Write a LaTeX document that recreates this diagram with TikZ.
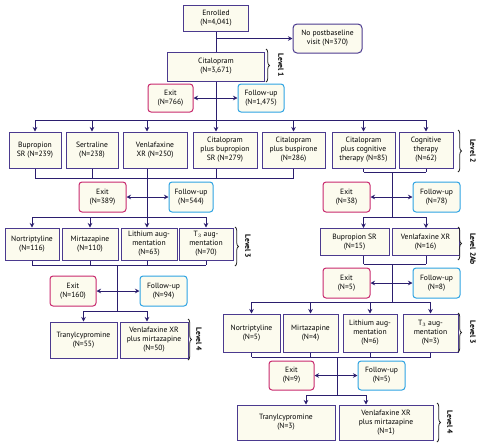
\documentclass[tikz,border=0pt]{standalone}
\usepackage{fontspec}
\setmainfont{PT Sans}
\usepackage{tikz}
\usetikzlibrary{arrows.meta,decorations.pathreplacing}
\definecolor{boxc}{HTML}{4B3A8F}
\definecolor{linec}{HTML}{2B1E6E}
\definecolor{exitc}{HTML}{C8286E}
\definecolor{fupc}{HTML}{2EA3E3}
\definecolor{softbg}{HTML}{FCFBEE}
\tikzset{
  ln/.style={linec,line width=1pt},
  ar/.style={ln,-{Stealth[length=4.5pt,width=4.5pt]}},
  dar/.style={ln,{Stealth[length=4.5pt,width=4.5pt]}-{Stealth[length=4.5pt,width=4.5pt]}},
  box/.style={draw=boxc,line width=1pt,fill=softbg,align=center,inner sep=1pt,font=\fontsize{7.6}{9}\selectfont},
  exbox/.style={box,draw=exitc,rounded corners=3pt},
  fubox/.style={box,draw=fupc,rounded corners=3pt},
  lvl/.style={font=\fontsize{7.6}{9}\selectfont\bfseries,rotate=-90},
  brc/.style={decorate,decoration={brace,amplitude=3.5pt},line width=0.8pt,black!85}
}

\begin{document}
\begin{tikzpicture}[x=1pt,y=-1pt]
\useasboundingbox (0,0) rectangle (485,445);
\coordinate (cl) at (147,0);
\coordinate (cm) at (216,0);
\coordinate (ck) at (117,0);
\coordinate (cr) at (392,0);
\coordinate (cq) at (337,0);
\coordinate (ca) at (306,0);
\coordinate (cb) at (366,0);
\coordinate (b1) at (0,120);
\coordinate (b2) at (0,178);
\coordinate (b3) at (0,217);
\coordinate (b4) at (0,265);
\coordinate (b5) at (0,311);
\coordinate (r1) at (0,172);
\coordinate (r2) at (0,217);
\coordinate (r3) at (0,264);
\coordinate (r4) at (0,302);
\coordinate (r5) at (0,357);
\coordinate (r6) at (0,395);

\node[box,minimum width=65pt,minimum height=26pt] (enr) at (216,18) {Enrolled\\(N=4,041)};
\node[box,rounded corners=4pt,minimum width=69pt,minimum height=29pt] (nopb) at (327.5,38.5) {No postbaseline\\visit (N=370)};
\node[box,minimum width=97pt,minimum height=29pt] (cit) at (216,66.5) {Citalopram\\(N=3,671)};
\node[exbox,minimum width=45pt,minimum height=28pt] (ex1) at (170.5,98) {Exit\\(N=766)};
\node[fubox,minimum width=46pt,minimum height=28pt] (fu1) at (261,98) {Follow-up\\(N=1,475)};

\node[box,minimum width=52pt,minimum height=36pt] (bup) at (35,150) {Bupropion\\SR (N=239)};
\node[box,minimum width=52pt,minimum height=36pt] (ser) at (92,150) {Sertraline\\(N=238)};
\node[box,minimum width=64pt,minimum height=36pt] (ven) at (155,150) {Venlafaxine\\XR (N=250)};
\node[box,minimum width=64pt,minimum height=36pt] (cbs) at (225,150) {Citalopram\\plus bupropion\\SR (N=279)};
\node[box,minimum width=63pt,minimum height=36pt] (cbu) at (293.5,150) {Citalopram\\plus buspirone\\(N=286)};
\node[box,minimum width=63pt,minimum height=36pt] (cct) at (363.5,150) {Citalopram\\plus cognitive\\therapy (N=85)};
\node[box,minimum width=54pt,minimum height=36pt] (cog) at (426,150) {Cognitive\\therapy\\(N=62)};

\node[exbox,minimum width=47pt,minimum height=30pt] (ex2) at (102.5,197) {Exit\\(N=389)};
\node[fubox,minimum width=44pt,minimum height=30pt] (fu2) at (191,197) {Follow-up\\(N=544)};
\node[box,minimum width=54pt,minimum height=32pt] (nor) at (32,244) {Nortriptyline\\(N=116)};
\node[box,minimum width=56pt,minimum height=32pt] (mir) at (90,244) {Mirtazapine\\(N=110)};
\node[box,minimum width=56pt,minimum height=32pt] (lit) at (149,244) {Lithium aug-\\mentation\\(N=63)};
\node[box,minimum width=54pt,minimum height=32pt] (tth) at (206,244) {T$_3$ aug-\\mentation\\(N=70)};
\node[exbox,minimum width=46pt,minimum height=30pt] (ex3) at (73,291) {Exit\\(N=160)};
\node[fubox,minimum width=47pt,minimum height=30pt] (fu3) at (163.5,291) {Follow-up\\(N=94)};
\node[box,minimum width=67pt,minimum height=36pt] (tra) at (83.5,340) {Tranylcypromine\\(N=55)};
\node[box,minimum width=68pt,minimum height=36pt] (vmi) at (154,340) {Venlafaxine XR\\plus mirtazapine\\(N=50)};

\node[exbox,minimum width=47pt,minimum height=30pt] (ex2r) at (346.5,197) {Exit\\(N=38)};
\node[fubox,minimum width=47pt,minimum height=30pt] (fu2r) at (436.5,197) {Follow-up\\(N=78)};
\node[box,minimum width=69pt,minimum height=27pt] (bsr) at (354.5,242) {Bupropion SR\\(N=15)};
\node[box,minimum width=67pt,minimum height=27pt] (vxr) at (425.5,242) {Venlafaxine XR\\(N=16)};
\node[exbox,minimum width=47pt,minimum height=30pt] (ex2b) at (346.5,283) {Exit\\(N=5)};
\node[fubox,minimum width=47pt,minimum height=30pt] (fu2b) at (436.5,283) {Follow-up\\(N=8)};
\node[box,minimum width=57pt,minimum height=38pt] (norr) at (251.5,333) {Nortriptyline\\(N=5)};
\node[box,minimum width=55pt,minimum height=38pt] (mirr) at (310.5,333) {Mirtazapine\\(N=4)};
\node[box,minimum width=54pt,minimum height=38pt] (litr) at (370,333) {Lithium aug-\\mentation\\(N=6)};
\node[box,minimum width=55pt,minimum height=38pt] (tthr) at (430.5,333) {T$_3$ aug-\\mentation\\(N=3)};
\node[exbox,minimum width=45pt,minimum height=29pt] (ex3r) at (291.5,375.5) {Exit\\(N=9)};
\node[fubox,minimum width=47pt,minimum height=29pt] (fu3r) at (381.5,375.5) {Follow-up\\(N=5)};
\node[box,minimum width=98pt,minimum height=35pt] (trar) at (286,422.5) {Tranylcypromine\\(N=3)};
\node[box,minimum width=94pt,minimum height=35pt] (vmir) at (386,422.5) {Venlafaxine XR\\plus mirtazapine\\(N=1)};

\draw[ln] (enr) -- (cit);
\draw[ar] (enr.south |- nopb.west) -- (nopb.west);
\draw[ar] (cit) -- (cit |- cbs.north);
\draw[dar] (ex1) -- (fu1);
\draw[ln] (bup.north |- b1) -- (cog.north |- b1);
\foreach \n in {bup,ser,cbu,cct,cog} \draw[ar] (\n.north |- b1) -- (\n.north);
\draw[ar] (cl |- b1) -- (cl |- ven.north);

\foreach \n in {bup,ser,cbu} \draw[ln] (\n.south) -- (\n.south |- b2);
\draw[ln] (cl |- ven.south) -- (cl |- b2);
\draw[ln] (cm |- cbs.south) -- (cm |- b2);
\draw[ln] (bup.south |- b2) -- (cbu.south |- b2);
\draw[ln] (cl |- b2) -- (cl |- b3);
\draw[dar] (ex2) -- (fu2);
\draw[ln] (nor.north |- b3) -- (tth.north |- b3);
\foreach \n in {nor,mir,tth} \draw[ar] (\n.north |- b3) -- (\n.north);
\draw[ar] (cl |- b3) -- (cl |- lit.north);

\foreach \n in {nor,mir,tth} \draw[ln] (\n.south) -- (\n.south |- b4);
\draw[ln] (cl |- lit.south) -- (cl |- b4);
\draw[ln] (nor.south |- b4) -- (tth.south |- b4);
\draw[ln] (ck |- b4) -- (ck |- b5);
\draw[dar] (ex3) -- (fu3);
\draw[ln] (tra.north |- b5) -- (cl |- b5);
\draw[ar] (tra.north |- b5) -- (tra.north);
\draw[ar] (cl |- b5) -- (cl |- vmi.north);

\draw[ln] (cct.south) -- (cct.south |- r1);
\draw[ln] (cog.south) -- (cog.south |- r1);
\draw[ln] (cct.south |- r1) -- (cog.south |- r1);
\draw[ln] (cr |- r1) -- (cr |- r2);
\draw[dar] (ex2r) -- (fu2r);
\draw[ln] (cct.south |- r2) -- (cog.south |- r2);
\draw[ar] (cct.south |- r2) -- (cct.south |- bsr.north);
\draw[ar] (cog.south |- r2) -- (cog.south |- vxr.north);

\draw[ln] (cct.south |- bsr.south) -- (cct.south |- r3);
\draw[ln] (cog.south |- vxr.south) -- (cog.south |- r3);
\draw[ln] (cct.south |- r3) -- (cog.south |- r3);
\draw[ln] (cr |- r3) -- (cr |- r4);
\draw[dar] (ex2b) -- (fu2b);
\draw[ln] (norr.north |- r4) -- (tthr.north |- r4);
\foreach \n in {norr,mirr,litr,tthr} \draw[ar] (\n.north |- r4) -- (\n.north);

\foreach \n in {norr,mirr,litr,tthr} \draw[ln] (\n.south) -- (\n.south |- r5);
\draw[ln] (norr.south |- r5) -- (tthr.south |- r5);
\draw[ln] (cq |- r5) -- (cq |- r6);
\draw[dar] (ex3r) -- (fu3r);
\draw[ln] (ca |- r6) -- (cb |- r6);
\draw[ar] (ca |- r6) -- (ca |- trar.north);
\draw[ar] (cb |- r6) -- (cb |- vmir.north);

\draw[brc] (266,49) -- (266,82);
\node[lvl] (l1) at (281,65.5) {Level 1};
\draw[brc] (458,130) -- (458,172);
\node[lvl] (l2) at (473,151) {Level 2};
\draw[brc] (458,227) -- (458,260);
\node[lvl] (l2ab) at (473,249) {Level 2Ab};
\draw[brc] (235,227) -- (235,266);
\node[lvl] (l3) at (248,246.5) {Level 3};
\draw[brc] (458,313) -- (458,352);
\node[lvl] (l3r) at (473,332.5) {Level 3};
\draw[brc] (188,319) -- (188,360);
\node[lvl] (l4) at (199,339.5) {Level 4};
\draw[brc] (437,403) -- (437,442);
\node[lvl] (l4r) at (450,422.5) {Level 4};
\end{tikzpicture}
\end{document}
